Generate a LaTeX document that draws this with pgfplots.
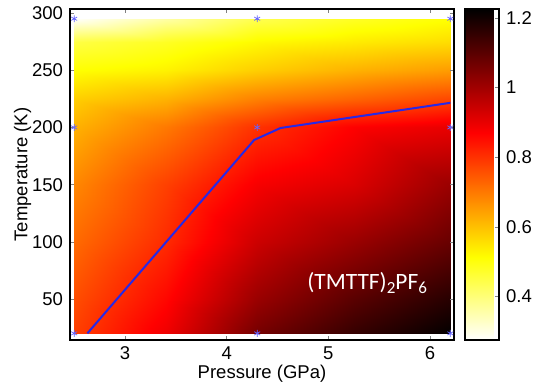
\documentclass[border=0pt]{standalone}
\usepackage{pgfplots}
\pgfplotsset{compat=1.18}
\usepackage{fontspec}
\setmainfont{Liberation Sans}
\newfontfamily\carlito{Carlito}
\pgfplotsset{/pgf/number format/assume math mode=true}
\pgfplotstableread{
x y c
2.5 20 0.78
3.4 20 0.89
4.3 20 1.06
5.25 20 1.15
6.2 20 1.22
2.5 50 0.76
3.4 50 0.86
4.3 50 1.01
5.25 50 1.10
6.2 50 1.17
2.5 100 0.72
3.4 100 0.81
4.3 100 0.94
5.25 100 1.01
6.2 100 1.08
2.5 150 0.68
3.4 150 0.78
4.3 150 0.88
5.25 150 0.92
6.2 150 1.01
2.5 200 0.62
3.4 200 0.70
4.3 200 0.80
5.25 200 0.87
6.2 200 0.90
2.5 225 0.58
3.4 225 0.62
4.3 225 0.69
5.25 225 0.73
6.2 225 0.77
2.5 250 0.51
3.4 250 0.53
4.3 250 0.58
5.25 250 0.62
6.2 250 0.65
2.5 275 0.45
3.4 275 0.48
4.3 275 0.52
5.25 275 0.54
6.2 275 0.56
2.5 295 0.28
3.4 295 0.36
4.3 295 0.44
5.25 295 0.48
6.2 295 0.51
}\fielddata
\begin{document}
\begin{tikzpicture}
\useasboundingbox (-35pt,-24pt) rectangle (233pt,170pt);
\begin{axis}[
  at={(0,0)}, anchor=south west,
  scale only axis, width=192pt, height=165.5pt,
  xmin=2.459, xmax=6.236, ymin=14.2, ymax=303.5,
  xtick={3,4,5,6}, ytick={50,100,150,200,250,300},
  tick align=inside, major tick length=2pt, tick pos=both,
  tick label style={font=\fontsize{9.25}{11}\selectfont},
  label style={font=\fontsize{9.25}{11}\selectfont},
  xlabel={Pressure (GPa)}, ylabel={Temperature (K)},
  xlabel shift=-4.5pt, ylabel shift=-6.5pt,
  axis line style={line width=0.6pt},
  axis on top,
  colormap={hotr}{rgb255(0cm)=(255,255,255); rgb255(2cm)=(255,255,0); rgb255(5cm)=(255,0,0); rgb255(8cm)=(0,0,0)},
  point meta min=0.275, point meta max=1.225,
  colorbar,
  colorbar style={
    at={(parent axis.north east)}, anchor=north west, xshift=-3pt,
    width=17pt,
    ytick={0.4,0.6,0.8,1,1.2}, yticklabels={0.4,0.6,0.8,1,1.2},
    tick align=inside, major tick length=2pt, ytick pos=right, yticklabel pos=right,
    tick label style={font=\fontsize{9.25}{11}\selectfont},
    axis line style={line width=0.6pt},
  },
]
\addplot[surf, shader=interp, mesh/cols=5, point meta=explicit] table[x=x, y=y, meta=c] {\fielddata};
\addplot[only marks, mark=asterisk, mark size=1.7pt, color={rgb,255:red,100;green,100;blue,255}, mark options={line width=0.35pt}] coordinates {
(2.5,295) (4.3,295) (6.2,295)
(2.5,200) (4.3,200) (6.2,200)
(2.5,20) (4.3,20) (6.2,20)
};
\addplot[color={rgb,255:red,40;green,40;blue,230}, line width=1pt] coordinates {(2.63,20) (4.27,189) (4.53,199.5) (6.2,221.5)};
\node[anchor=base west, inner sep=0, text=white, font=\carlito\fontsize{11.7}{14}\selectfont] at (axis cs:4.79,58) {(TMTTF)\raisebox{-0.35ex}{\fontsize{8.5}{10}\selectfont 2}PF\raisebox{-0.35ex}{\fontsize{8.5}{10}\selectfont 6}};
\end{axis}
\end{tikzpicture}
\end{document}
